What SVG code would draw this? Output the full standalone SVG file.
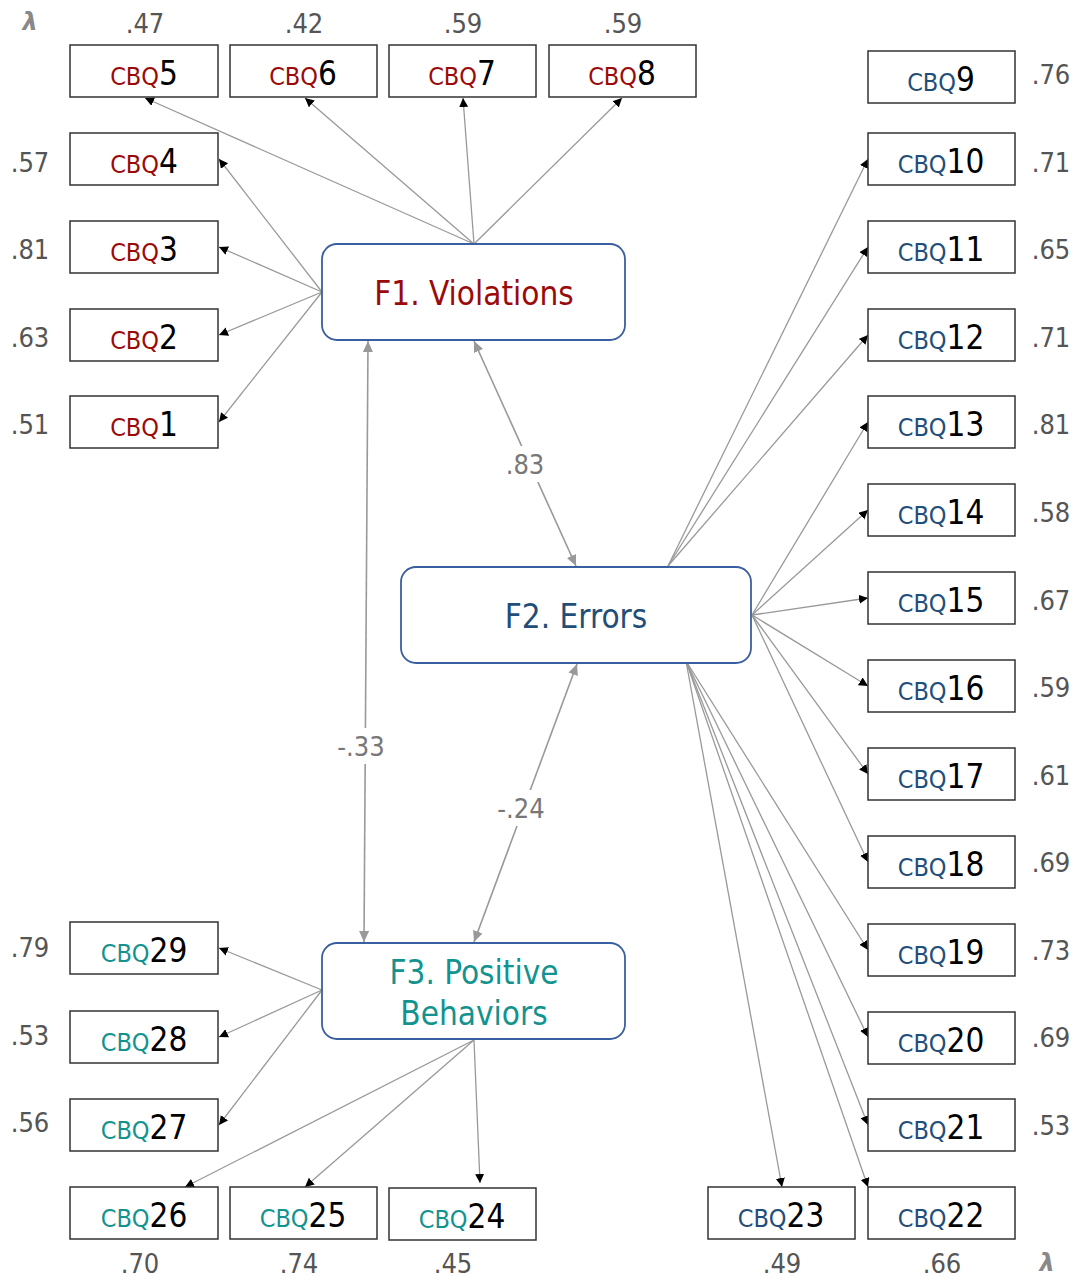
<svg xmlns="http://www.w3.org/2000/svg" width="1077" height="1277" viewBox="0 0 1077 1277">
<defs>
<style>
.box{fill:#fff;stroke:#333;stroke-width:1.5}
.fac{fill:#fff;stroke:#3a5fa0;stroke-width:1.8}
.t{font-family:"DejaVu Sans Condensed","DejaVu Sans",sans-serif;text-anchor:middle}
.cbq{font-size:25px}
.num{font-size:33px;fill:#000}
.r{fill:#9b0a0a}.b{fill:#1f4e79}.g{fill:#12938f}
.ld{font-size:27px;fill:#555}
.cl{font-size:27px;fill:#777}
.lam{font-family:"DejaVu Sans",sans-serif;font-size:24px;font-weight:bold;font-style:italic;fill:#888;text-anchor:middle}
.ft{font-size:33px}
.ln{stroke:#999;stroke-width:1.3;fill:none;marker-end:url(#ah)}
.cr{stroke:#999;stroke-width:1.6;fill:none;marker-end:url(#ag);marker-start:url(#ag)}
</style>
<marker id="ah" markerUnits="userSpaceOnUse" markerWidth="10" markerHeight="10" refX="9" refY="4.5" orient="auto"><path d="M0,0 L9,4.5 L0,9 z" fill="#000"/></marker>
<marker id="ag" markerUnits="userSpaceOnUse" markerWidth="12" markerHeight="12" refX="11" refY="5" orient="auto-start-reverse"><path d="M0,0 L11,5 L0,10 z" fill="#999"/></marker>
</defs>
<rect width="1077" height="1277" fill="#fff"/>

<g id="connectors">
<line class="ln" x1="474" y1="244" x2="145" y2="98"/>
<line class="ln" x1="474" y1="244" x2="305" y2="98"/>
<line class="ln" x1="474" y1="244" x2="463" y2="98"/>
<line class="ln" x1="474" y1="244" x2="622" y2="98"/>
<line class="ln" x1="322" y1="292" x2="219" y2="159"/>
<line class="ln" x1="322" y1="292" x2="219" y2="247"/>
<line class="ln" x1="322" y1="292" x2="219" y2="335"/>
<line class="ln" x1="322" y1="292" x2="219" y2="422"/>
<line class="ln" x1="668" y1="566" x2="868" y2="159"/>
<line class="ln" x1="668" y1="566" x2="868" y2="247"/>
<line class="ln" x1="668" y1="566" x2="868" y2="335"/>
<line class="ln" x1="752" y1="615" x2="868" y2="422"/>
<line class="ln" x1="752" y1="615" x2="868" y2="510"/>
<line class="ln" x1="752" y1="615" x2="868" y2="598"/>
<line class="ln" x1="752" y1="615" x2="868" y2="686"/>
<line class="ln" x1="752" y1="615" x2="868" y2="774"/>
<line class="ln" x1="752" y1="615" x2="868" y2="862"/>
<line class="ln" x1="686" y1="661" x2="868" y2="950"/>
<line class="ln" x1="686" y1="661" x2="868" y2="1037"/>
<line class="ln" x1="686" y1="661" x2="868" y2="1125"/>
<line class="ln" x1="686" y1="661" x2="868" y2="1187"/>
<line class="ln" x1="686" y1="661" x2="782" y2="1187"/>
<line class="ln" x1="322" y1="990" x2="219" y2="948"/>
<line class="ln" x1="322" y1="990" x2="219" y2="1037"/>
<line class="ln" x1="322" y1="990" x2="219" y2="1125"/>
<line class="ln" x1="474" y1="1040" x2="185" y2="1187"/>
<line class="ln" x1="474" y1="1040" x2="305" y2="1187"/>
<line class="ln" x1="474" y1="1040" x2="480" y2="1183"/>
<line class="cr" x1="474" y1="341" x2="576" y2="566"/>
<line class="cr" x1="368" y1="341" x2="364" y2="942"/>
<line class="cr" x1="577" y1="664" x2="474" y2="942"/>
<rect x="500" y="446" width="50" height="36" fill="#fff"/>
<text class="t cl" x="525" y="474">.83</text>
<rect x="332" y="728" width="58" height="36" fill="#fff"/>
<text class="t cl" x="361" y="756">-.33</text>
<rect x="492" y="790" width="58" height="36" fill="#fff"/>
<text class="t cl" x="521" y="818">-.24</text>
</g>

<g id="F1"><rect class="fac" x="322" y="244" width="303" height="96" rx="15"/><text class="t ft r" x="474" y="305">F1. Violations</text></g>
<g id="F2"><rect class="fac" x="401" y="567" width="350" height="96" rx="15"/><text class="t ft b" x="576" y="628">F2. Errors</text></g>
<g id="F3"><rect class="fac" x="322" y="943" width="303" height="96" rx="15"/><text class="t ft g" x="474" y="984">F3. Positive</text><text class="t ft g" x="474" y="1025">Behaviors</text></g>

<g id="CBQ5"><rect class="box" x="70" y="45" width="148" height="52"/><text class="t" x="144" y="85"><tspan class="cbq r">CBQ</tspan><tspan class="num">5</tspan></text></g>
<g id="CBQ6"><rect class="box" x="230" y="45" width="147" height="52"/><text class="t" x="303" y="85"><tspan class="cbq r">CBQ</tspan><tspan class="num">6</tspan></text></g>
<g id="CBQ7"><rect class="box" x="389" y="45" width="147" height="52"/><text class="t" x="462" y="85"><tspan class="cbq r">CBQ</tspan><tspan class="num">7</tspan></text></g>
<g id="CBQ8"><rect class="box" x="549" y="45" width="147" height="52"/><text class="t" x="622" y="85"><tspan class="cbq r">CBQ</tspan><tspan class="num">8</tspan></text></g>
<g id="CBQ4"><rect class="box" x="70" y="133" width="148" height="52"/><text class="t" x="144" y="173"><tspan class="cbq r">CBQ</tspan><tspan class="num">4</tspan></text></g>
<g id="CBQ3"><rect class="box" x="70" y="221" width="148" height="52"/><text class="t" x="144" y="261"><tspan class="cbq r">CBQ</tspan><tspan class="num">3</tspan></text></g>
<g id="CBQ2"><rect class="box" x="70" y="309" width="148" height="52"/><text class="t" x="144" y="349"><tspan class="cbq r">CBQ</tspan><tspan class="num">2</tspan></text></g>
<g id="CBQ1"><rect class="box" x="70" y="396" width="148" height="52"/><text class="t" x="144" y="436"><tspan class="cbq r">CBQ</tspan><tspan class="num">1</tspan></text></g>

<g id="CBQ9"><rect class="box" x="868" y="51" width="147" height="52"/><text class="t" x="941" y="91"><tspan class="cbq b">CBQ</tspan><tspan class="num">9</tspan></text></g>
<g id="CBQ10"><rect class="box" x="868" y="133" width="147" height="52"/><text class="t" x="941" y="173"><tspan class="cbq b">CBQ</tspan><tspan class="num">10</tspan></text></g>
<g id="CBQ11"><rect class="box" x="868" y="221" width="147" height="52"/><text class="t" x="941" y="261"><tspan class="cbq b">CBQ</tspan><tspan class="num">11</tspan></text></g>
<g id="CBQ12"><rect class="box" x="868" y="309" width="147" height="52"/><text class="t" x="941" y="349"><tspan class="cbq b">CBQ</tspan><tspan class="num">12</tspan></text></g>
<g id="CBQ13"><rect class="box" x="868" y="396" width="147" height="52"/><text class="t" x="941" y="436"><tspan class="cbq b">CBQ</tspan><tspan class="num">13</tspan></text></g>
<g id="CBQ14"><rect class="box" x="868" y="484" width="147" height="52"/><text class="t" x="941" y="524"><tspan class="cbq b">CBQ</tspan><tspan class="num">14</tspan></text></g>
<g id="CBQ15"><rect class="box" x="868" y="572" width="147" height="52"/><text class="t" x="941" y="612"><tspan class="cbq b">CBQ</tspan><tspan class="num">15</tspan></text></g>
<g id="CBQ16"><rect class="box" x="868" y="660" width="147" height="52"/><text class="t" x="941" y="700"><tspan class="cbq b">CBQ</tspan><tspan class="num">16</tspan></text></g>
<g id="CBQ17"><rect class="box" x="868" y="748" width="147" height="52"/><text class="t" x="941" y="788"><tspan class="cbq b">CBQ</tspan><tspan class="num">17</tspan></text></g>
<g id="CBQ18"><rect class="box" x="868" y="836" width="147" height="52"/><text class="t" x="941" y="876"><tspan class="cbq b">CBQ</tspan><tspan class="num">18</tspan></text></g>
<g id="CBQ19"><rect class="box" x="868" y="924" width="147" height="52"/><text class="t" x="941" y="964"><tspan class="cbq b">CBQ</tspan><tspan class="num">19</tspan></text></g>
<g id="CBQ20"><rect class="box" x="868" y="1012" width="147" height="52"/><text class="t" x="941" y="1052"><tspan class="cbq b">CBQ</tspan><tspan class="num">20</tspan></text></g>
<g id="CBQ21"><rect class="box" x="868" y="1099" width="147" height="52"/><text class="t" x="941" y="1139"><tspan class="cbq b">CBQ</tspan><tspan class="num">21</tspan></text></g>
<g id="CBQ22"><rect class="box" x="868" y="1187" width="147" height="52"/><text class="t" x="941" y="1227"><tspan class="cbq b">CBQ</tspan><tspan class="num">22</tspan></text></g>
<g id="CBQ23"><rect class="box" x="708" y="1187" width="147" height="52"/><text class="t" x="781" y="1227"><tspan class="cbq b">CBQ</tspan><tspan class="num">23</tspan></text></g>

<g id="CBQ29"><rect class="box" x="70" y="922" width="148" height="52"/><text class="t" x="144" y="962"><tspan class="cbq g">CBQ</tspan><tspan class="num">29</tspan></text></g>
<g id="CBQ28"><rect class="box" x="70" y="1011" width="148" height="52"/><text class="t" x="144" y="1051"><tspan class="cbq g">CBQ</tspan><tspan class="num">28</tspan></text></g>
<g id="CBQ27"><rect class="box" x="70" y="1099" width="148" height="52"/><text class="t" x="144" y="1139"><tspan class="cbq g">CBQ</tspan><tspan class="num">27</tspan></text></g>
<g id="CBQ26"><rect class="box" x="70" y="1187" width="148" height="52"/><text class="t" x="144" y="1227"><tspan class="cbq g">CBQ</tspan><tspan class="num">26</tspan></text></g>
<g id="CBQ25"><rect class="box" x="230" y="1187" width="147" height="52"/><text class="t" x="303" y="1227"><tspan class="cbq g">CBQ</tspan><tspan class="num">25</tspan></text></g>
<g id="CBQ24"><rect class="box" x="389" y="1188" width="147" height="52"/><text class="t" x="462" y="1228"><tspan class="cbq g">CBQ</tspan><tspan class="num">24</tspan></text></g>

<g id="loadings">
<text class="lam" x="30" y="30">λ</text>
<text class="lam" x="1047" y="1271">λ</text>
<text class="t ld" x="145" y="33">.47</text>
<text class="t ld" x="304" y="33">.42</text>
<text class="t ld" x="463" y="33">.59</text>
<text class="t ld" x="623" y="33">.59</text>
<text class="t ld" x="30" y="172">.57</text>
<text class="t ld" x="30" y="259">.81</text>
<text class="t ld" x="30" y="347">.63</text>
<text class="t ld" x="30" y="434">.51</text>
<text class="t ld" x="30" y="957">.79</text>
<text class="t ld" x="30" y="1045">.53</text>
<text class="t ld" x="30" y="1132">.56</text>
<text class="t ld" x="140" y="1273">.70</text>
<text class="t ld" x="299" y="1273">.74</text>
<text class="t ld" x="453" y="1273">.45</text>
<text class="t ld" x="782" y="1273">.49</text>
<text class="t ld" x="942" y="1273">.66</text>
<text class="t ld" x="1051" y="84">.76</text>
<text class="t ld" x="1051" y="172">.71</text>
<text class="t ld" x="1051" y="259">.65</text>
<text class="t ld" x="1051" y="347">.71</text>
<text class="t ld" x="1051" y="434">.81</text>
<text class="t ld" x="1051" y="522">.58</text>
<text class="t ld" x="1051" y="610">.67</text>
<text class="t ld" x="1051" y="697">.59</text>
<text class="t ld" x="1051" y="785">.61</text>
<text class="t ld" x="1051" y="872">.69</text>
<text class="t ld" x="1051" y="960">.73</text>
<text class="t ld" x="1051" y="1047">.69</text>
<text class="t ld" x="1051" y="1135">.53</text>
</g>
</svg>
